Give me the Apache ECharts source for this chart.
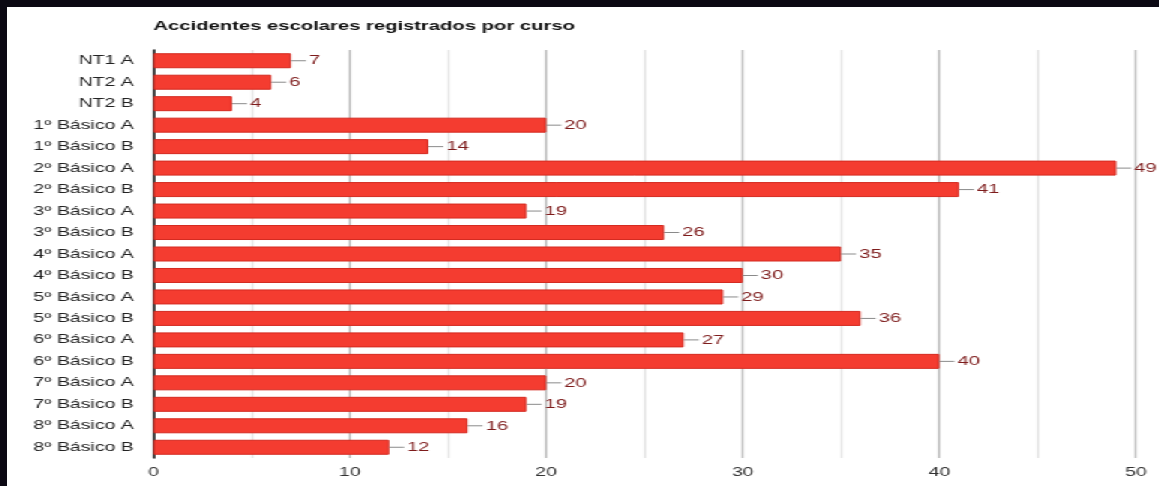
<!DOCTYPE html>
<html>
<head>
<meta charset="utf-8">
<script src="https://cdn.jsdelivr.net/npm/echarts@6/dist/echarts.min.js"></script>
<style>
  html, body { margin: 0; padding: 0; background: #0b0913; width: 1159px; height: 486px; overflow: hidden; }
  /* the reference is stretched horizontally, so the chart is drawn narrower and scaled */
  #chart { position: absolute; left: 7px; top: 7px; width: 768px; height: 479px; background: #fff;
           transform: scaleX(1.5); transform-origin: 0 0; }
</style>
</head>
<body>
<div id="chart"></div>
<script>
// cursos y número de accidentes
const courses = [
  'NT1 A', 'NT2 A', 'NT2 B',
  '1º Básico A', '1º Básico B', '2º Básico A', '2º Básico B',
  '3º Básico A', '3º Básico B', '4º Básico A', '4º Básico B',
  '5º Básico A', '5º Básico B', '6º Básico A', '6º Básico B',
  '7º Básico A', '7º Básico B', '8º Básico A', '8º Básico B'
]
const accidents = [7, 6, 4, 20, 14, 49, 41, 19, 26, 35, 30, 29, 36, 27, 40, 20, 19, 16, 12]

const chart = echarts.init(document.getElementById('chart'))

chart.setOption({
  animation: false,
  title: {
    text: 'Accidentes escolares registrados por curso',
    left: 97.5,
    top: 12,
    padding: 0,
    textStyle: { fontFamily: 'Liberation Sans', fontSize: 13.5, fontWeight: 'bold', color: '#111' },
  },
  grid: { left: 97.5, right: 15.3, top: 43, bottom: 28, containLabel: false },
  xAxis: {
    type: 'value',
    min: 0,
    max: 50,
    interval: 10,
    axisLine: { show: false },
    axisTick: { show: false },
    axisLabel: { color: '#333', fontFamily: 'Liberation Sans', fontSize: 13, margin: 8 },
    splitLine: { lineStyle: { color: '#bcbcbc', width: 1.4 } },
    minorTick: { show: false, splitNumber: 2 },
    minorSplitLine: { show: true, lineStyle: { color: '#e4e4e4', width: 1.4 } },
  },
  yAxis: {
    type: 'category',
    data: courses,
    inverse: true,
    axisLine: { show: true, lineStyle: { color: '#222', width: 1.6 } },
    axisTick: { show: false },
    axisLabel: { color: '#222', fontFamily: 'Liberation Sans', fontSize: 13, margin: 13, padding: [4, 0, 0, 0] },
  },
  series: [
    {
      type: 'bar',
      data: accidents,
      barWidth: 15,
      itemStyle: { color: '#f43c30', borderColor: '#d42a20', borderWidth: 1 },
      label: {
        show: true,
        position: 'right',
        distance: 0,
        formatter: '{l|}{v|{c}}',
        rich: {
          l: { width: 10, height: 1, backgroundColor: '#8a8a8a' },
          v: { color: '#7e1c1c', fontFamily: 'Liberation Sans', fontSize: 13.5, padding: [0, 0, 0, 2] },
        },
      },
    },
  ],
})
</script>
</body>
</html>
